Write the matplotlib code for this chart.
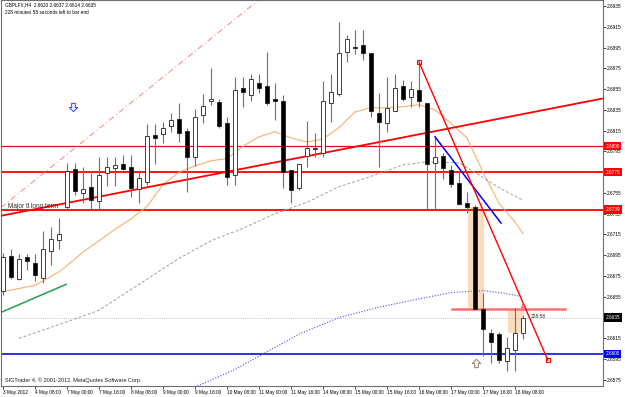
import numpy as np
import matplotlib.pyplot as plt
from matplotlib.patches import Rectangle
from matplotlib.path import Path
from matplotlib.transforms import blended_transform_factory

plt.rcParams['font.family'] = ['Liberation Sans', 'DejaVu Sans']

# H4 candles, 3 May 16:00 .. 18 May 12:00
opens = [2.6661, 2.6694, 2.6672, 2.6693, 2.6688, 2.6673, 2.6699, 2.6710, 2.6741, 2.6778,
         2.6755, 2.6761, 2.6747, 2.6774, 2.6779, 2.6783, 2.6780, 2.6759, 2.6766, 2.6811,
         2.6812, 2.6819, 2.6826, 2.6815, 2.6790, 2.6830, 2.6844, 2.6843, 2.6822, 2.6772,
         2.6856, 2.6849, 2.6861, 2.6858, 2.6845, 2.6844, 2.6777, 2.6760, 2.6791, 2.6797,
         2.6793, 2.6842, 2.6850, 2.6891, 2.6896, 2.6897, 2.6890, 2.6832, 2.6822, 2.6834,
         2.6858, 2.6847, 2.6854, 2.6842, 2.6784, 2.6791, 2.6777, 2.6765, 2.6745, 2.6741,
         2.6643, 2.6620, 2.6619, 2.6593, 2.6604, 2.6620]
highs = [2.6697, 2.6701, 2.6696, 2.6696, 2.6696, 2.6718, 2.6722, 2.6731, 2.6784, 2.6784,
         2.6780, 2.6774, 2.6790, 2.6790, 2.6790, 2.6792, 2.6792, 2.6777, 2.6821, 2.6821,
         2.6823, 2.6832, 2.6842, 2.6818, 2.6836, 2.6850, 2.6875, 2.6845, 2.6828, 2.6867,
         2.6867, 2.6870, 2.6870, 2.6891, 2.6861, 2.6849, 2.6777, 2.6783, 2.6824, 2.6813,
         2.6863, 2.6870, 2.6920, 2.6907, 2.6912, 2.6912, 2.6890, 2.6851, 2.6867, 2.6870,
         2.6864, 2.6863, 2.6881, 2.6842, 2.6809, 2.6793, 2.6782, 2.6776, 2.6756, 2.6743,
         2.6659, 2.6624, 2.6621, 2.6616, 2.6644, 2.6637]
lows = [2.6657, 2.6672, 2.6671, 2.6681, 2.6670, 2.6668, 2.6686, 2.6701, 2.6740, 2.6753,
        2.6745, 2.6740, 2.6740, 2.6762, 2.6762, 2.6777, 2.6751, 2.6745, 2.6763, 2.6783,
        2.6803, 2.6814, 2.6804, 2.6756, 2.6781, 2.6822, 2.6840, 2.6818, 2.6763, 2.6763,
        2.6838, 2.6844, 2.6851, 2.6840, 2.6825, 2.6760, 2.6745, 2.6758, 2.6780, 2.6790,
        2.6790, 2.6823, 2.6848, 2.6881, 2.6889, 2.6883, 2.6828, 2.6780, 2.6814, 2.6834,
        2.6844, 2.6838, 2.6838, 2.6740, 2.6740, 2.6768, 2.6761, 2.6743, 2.6736, 2.6643,
        2.6598, 2.6591, 2.6591, 2.6584, 2.6584, 2.6614]
closes = [2.6693, 2.6674, 2.6691, 2.6689, 2.6676, 2.6701, 2.6711, 2.6715, 2.6776, 2.6757,
          2.6759, 2.6748, 2.6772, 2.6780, 2.6782, 2.6778, 2.6760, 2.6769, 2.6810, 2.6808,
          2.6818, 2.6825, 2.6813, 2.6790, 2.6828, 2.6839, 2.6845, 2.6819, 2.6770, 2.6854,
          2.6852, 2.6865, 2.6856, 2.6842, 2.6844, 2.6775, 2.6758, 2.6783, 2.6798, 2.6798,
          2.6844, 2.6852, 2.6890, 2.6903, 2.6895, 2.6890, 2.6834, 2.6823, 2.6837, 2.6856,
          2.6845, 2.6855, 2.6844, 2.6783, 2.6790, 2.6779, 2.6764, 2.6744, 2.6741, 2.6643,
          2.6624, 2.6611, 2.6594, 2.6606, 2.6620, 2.6635]

# moving averages (bar index, price)
ma_fast_x = [0, 4, 7, 8, 10, 12, 14, 16, 18, 20, 22, 24, 26, 28, 30, 32, 34, 36, 38, 40,
             42, 44, 46, 48, 50, 52, 54, 56, 58, 60, 62, 64, 65]
ma_fast_y = [2.6660, 2.6666, 2.6679, 2.6685, 2.6698, 2.6709, 2.6720, 2.6730, 2.6742, 2.6763,
             2.6775, 2.6781, 2.6786, 2.6788, 2.6800, 2.6809, 2.6814, 2.6808, 2.6804, 2.6807,
             2.6818, 2.6833, 2.6837, 2.6837, 2.6838, 2.6840, 2.6835, 2.6822, 2.6808, 2.6775,
             2.6745, 2.6727, 2.6716]
ma_mid_x = [2, 8, 12, 16, 18, 22, 26, 30, 34, 38, 42, 46, 50, 53, 57, 60, 62, 65]
ma_mid_y = [2.6615, 2.6631, 2.6642, 2.6662, 2.6672, 2.6692, 2.6709, 2.6721, 2.6735, 2.6746,
            2.6761, 2.6771, 2.6782, 2.6785, 2.6784, 2.6770, 2.6760, 2.6748]
ma_slow_x = [24, 29, 33, 37, 42, 47, 52, 56, 60, 63, 65]
ma_slow_y = [2.6568, 2.6585, 2.6602, 2.6619, 2.6635, 2.6645, 2.6653, 2.6659, 2.6661, 2.6658, 2.6655]

# drawn objects
levels_red = [2.6800, 2.6775, 2.6739]
level_blue = 2.6600
last_price = 2.6635
major_tl = ([-0.25, 75], [2.6733, 2.6846])
dashed_tl = ([-0.25, 32], [2.6741, 2.6941])
down_tl = ([52, 68.1], [2.6881, 2.6594])
blue_tl = ([54, 62.25], [2.6809, 2.6726])
green_tl = ([-0.25, 7.9], [2.6640, 2.6667])
short_level = ([56.1, 70.25], 2.6643)
boxes = [(58.1, 60.1, 2.6643, 2.6741), (63.1, 65.1, 2.6620, 2.6643)]

tick_pos = list(range(0, 66, 4))
tick_labels = ["3 May 2012", "4 May 08:00", "7 May 00:00", "7 May 16:00", "8 May 08:00",
               "9 May 00:00", "9 May 16:00", "10 May 08:00", "11 May 00:00", "11 May 16:00",
               "14 May 08:00", "15 May 00:00", "15 May 16:00", "16 May 08:00", "17 May 00:00",
               "17 May 16:00", "18 May 08:00"]
y_ticks = np.round(np.arange(2.6575, 2.6936, 0.002), 4)
price_boxes = [(2.6800, '#ff0000'), (2.6775, '#ff0000'), (2.6739, '#ff0000'),
               (last_price, '#000000'), (level_blue, '#0000ff')]

# hollow block arrow used by the MT4 arrow objects
arrow_down = Path([(-0.22, 0.5), (0.22, 0.5), (0.22, 0.0), (0.5, 0.0), (0.0, -0.5),
                   (-0.5, 0.0), (-0.22, 0.0), (-0.22, 0.5)], closed=True)
arrow_up = Path([(x, -y) for x, y in arrow_down.vertices], closed=True)

fig = plt.figure(figsize=(6.25, 3.97), dpi=100)
ax = fig.add_axes([1 / 625, 11 / 397, 602 / 625, 386 / 397])
ax.set_xlim(-0.25, 75)
ax.set_ylim(2.65691, 2.69408)

# shaded zones
for x0, x1, y0, y1 in boxes:
    ax.add_patch(Rectangle((x0, y0), x1 - x0, y1 - y0, fc='#fbdcbc', ec='none', zorder=1))

# horizontal levels
ax.axhline(last_price, color='#b0b0b0', lw=0.6, ls=(0, (1, 1.5)), zorder=1)
ax.axhline(levels_red[0], color='#e01010', lw=0.9, zorder=2)
for lv in levels_red[1:]:
    ax.axhline(lv, color='#ff0000', lw=1.3, zorder=2)
ax.axhline(level_blue, color='#2020e0', lw=1.3, zorder=2)
ax.plot(short_level[0], [short_level[1]] * 2, color='#ff7070', lw=1.8, zorder=2)

# moving averages
ax.plot(ma_fast_x, ma_fast_y, color='#f8b070', lw=0.8, zorder=2)
ax.plot(ma_mid_x, ma_mid_y, color='#a0a0a0', lw=0.7, ls=(0, (3, 2)), zorder=2)
ax.plot(ma_slow_x, ma_slow_y, color='#5050ff', lw=0.8, ls=(0, (1, 1.5)), zorder=2)

# trend lines
ax.plot(*major_tl, color='#ff0000', lw=1.3, zorder=3)
ax.plot(*dashed_tl, color='#ff8080', lw=0.7, ls=(0, (6, 3, 1, 3)), zorder=2)
ax.plot(*green_tl, color='#20a050', lw=1.1, zorder=3)
ax.plot(*blue_tl, color='#0000ff', lw=1.1, zorder=5)
ax.plot(*down_tl, color='#ff0000', lw=1.0, zorder=5)
ax.plot(*down_tl, ls='none', marker='s', ms=3, mfc='none', mec='#ff0000', mew=0.8, zorder=5)

# candles
for i, (o, h, l, c) in enumerate(zip(opens, highs, lows, closes)):
    ax.vlines(i, l, h, color='#707070', lw=0.8, zorder=3)
    up = c >= o
    ax.bar(i, max(abs(c - o), 0.00002), bottom=min(o, c), width=0.62,
           color='white' if up else 'black', edgecolor='#202020', lw=0.6, zorder=4)

# symbols and notes
ax.plot([8.75], [2.6838], ls='none', marker=arrow_down, ms=6, mfc='white', mec='#3040ff',
        mew=0.7, zorder=6)
ax.plot([59.1], [2.6591], ls='none', marker=arrow_up, ms=6, mfc='white', mec='#908060',
        mew=0.7, zorder=6)
ax.plot([65], [2.6647], ls='none', marker='^', ms=3, mfc='none', mec='#ff3030', mew=0.6, zorder=6)
ax.text(66, 2.6636, '228:58', fontsize=3.6, color='#303030', va='center', ha='left', zorder=6)
ax.text(0.6, 2.6742, 'Major tl long term', fontsize=4.7, color='#303030', va='center',
        ha='left', zorder=6)

ax.text(0.006, 0.995, 'GBPLFX,H4  2.6620 2.6637 2.6614 2.6635', transform=ax.transAxes,
        fontsize=3.4, va='top', ha='left')
ax.text(0.006, 0.975, '228 minutes 58 seconds left to bar end', transform=ax.transAxes,
        fontsize=3.4, va='top', ha='left')
ax.text(0.006, 0.008, 'SIGTrader 4, \u00a9 2001-2012, MetaQuotes Software Corp.',
        transform=ax.transAxes, fontsize=4.0, va='bottom', ha='left', color='#202020')

# axes; tick labels hidden under the price boxes are left blank
covered = {round(v, 4) for v, _ in price_boxes}
ax.yaxis.tick_right()
ax.set_yticks(y_ticks)
ax.set_yticklabels(['' if round(v, 4) in covered else f'{v:.4f}' for v in y_ticks])
ax.set_xticks(tick_pos)
ax.set_xticklabels(tick_labels, ha='left')
ax.tick_params(axis='both', labelsize=3.4, length=2, width=0.5, pad=1, colors='black')
for sp in ax.spines.values():
    sp.set_color('#707070')
    sp.set_linewidth(0.8)

# price boxes on the right scale
tr = blended_transform_factory(ax.transAxes, ax.transData)
for val, col in price_boxes:
    ax.text(1.004, val, f'{val:.4f}', transform=tr, fontsize=3.4, color='white',
            va='center', ha='left', zorder=10, clip_on=False,
            bbox=dict(boxstyle='square,pad=0.35', fc=col, ec='none'))

fig.savefig('out.png', dpi=100)
